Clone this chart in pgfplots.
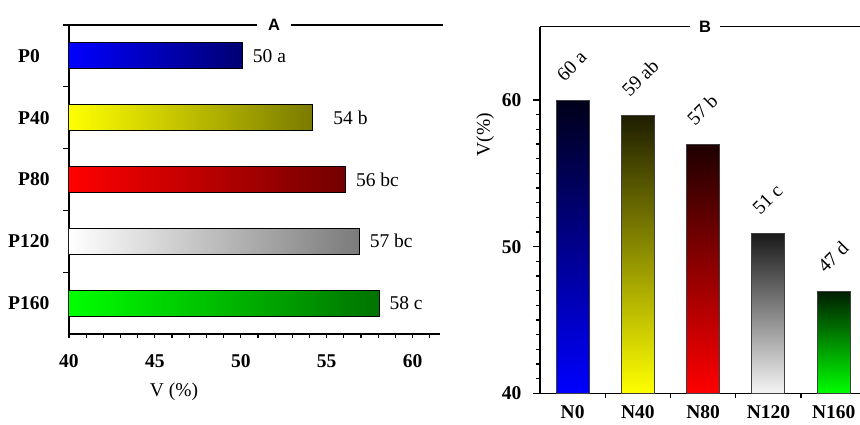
\documentclass[border=0pt]{standalone}
\usepackage{pgfplots}
\pgfplotsset{compat=1.18}
\usepackage{fontspec}
\setmainfont{Liberation Serif}
\newfontfamily\titlefont{Liberation Sans}
\newcommand\fs{\fontsize{19.5}{23}\selectfont}
\begin{document}
\begin{tikzpicture}
\useasboundingbox (0,0) rectangle (860pt,424pt);
\begin{axis}[name=A,
  at={(69pt,90pt)}, anchor=south west, scale only axis,
  width=371pt, height=309pt,
  axis lines*=left, axis line style={line width=1.2pt},
  tick align=outside, tick style={line width=1.2pt, black},
  major tick length=4pt, minor tick length=6pt,
  x coord trafo/.code={\pgfmathparse{#1-40}},
  xmin=40, xmax=61.6,
  xtick={40,41,...,61},
  xticklabels={40,,,,,45,,,,,50,,,,,55,,,,,60,},
  ymin=-0.5, ymax=4.5,
  ytick={0,1,2,3,4},
  yticklabels={\hspace{-10pt}P160,\hspace{-10pt}P120,P80,P40,P0},
  major y tick style={draw=none},
  minor ytick={0.5,1.5,2.5,3.5},
  tick label style={font=\fs\bfseries},
  xticklabel style={anchor=center, yshift=-23pt},
  yticklabel style={anchor=west, inner sep=0pt, xshift=-47pt},
  xlabel={V (\%)},
  xlabel style={font=\fs, at={(axis description cs:0.283,-0.188)}, anchor=center},
  point meta=explicit symbolic,
  nodes near coords,
  nodes near coords style={font=\fs, anchor=west, inner sep=0pt, xshift=10pt},
  every axis plot/.append style={xbar, bar width=26pt, bar shift=0pt, draw=black, line width=1pt},
]
\addplot[left color=blue, right color=blue!45!black] coordinates {(50.1,4) [50 a]};
\addplot[left color=yellow, right color=yellow!48!black, every node near coord/.append style={xshift=10pt}] coordinates {(54.2,3) [54 b]};
\addplot[left color=red, right color=red!45!black] coordinates {(56.1,2) [56 bc]};
\addplot[left color=white, right color=white!48!black] coordinates {(56.9,1) [57 bc]};
\addplot[left color=green, right color=green!45!black] coordinates {(58.05,0) [58 c]};
\end{axis}
\draw[line width=1.2pt] ([xshift=-6pt]A.north west) -- ([xshift=3pt]A.north east);
\node[fill=white, inner xsep=11pt, inner ysep=2pt, font=\titlefont\bfseries\fontsize{16.5}{18}\selectfont] at (274pt,399pt) {A};

\begin{axis}[name=B,
  at={(540pt,30.7pt)}, anchor=south west, scale only axis,
  width=325pt, height=366.6pt,
  axis lines*=left, axis line style={line width=1.2pt},
  tick align=outside, tick style={line width=1.2pt, black},
  major tick length=7pt, minor tick length=4.5pt,
  y coord trafo/.code={\pgfmathparse{#1-40}},
  ymin=40, ymax=65,
  ytick={40,50,60}, yticklabels={40,50,60},
  minor y tick num=9,
  xmin=-0.5, xmax=4.48,
  xtick={0,1,2,3,4},
  xticklabels={N0,N40,N80,N120,N160},
  major x tick style={draw=none},
  minor xtick={0.5,1.5,2.5,3.5},
  tick label style={font=\fs\bfseries},
  yticklabel style={xshift=-8pt},
  xticklabel style={yshift=-2pt},
  ylabel={V(\%)},
  ylabel style={font=\fs, at={(axis description cs:-0.169,0.705)}, anchor=center},
  point meta=explicit symbolic,
  nodes near coords,
  nodes near coords style={font=\fs, anchor=south west, inner sep=0pt, xshift=-8pt, yshift=17pt, rotate=45},
  every axis plot/.append style={ybar, bar width=33pt, bar shift=0pt, draw=black!75, line width=1pt},
]
\addplot[bottom color=blue, top color=blue!10!black] coordinates {(0,60) [60 a]};
\addplot[bottom color=yellow, top color=yellow!12!black] coordinates {(1,58.93) [59 ab]};
\addplot[bottom color=red, top color=red!12!black] coordinates {(2,56.96) [57 b]};
\addplot[bottom color=white!96!black, top color=black!90] coordinates {(3,50.9) [51 c]};
\addplot[bottom color=green, top color=green!12!black] coordinates {(4,46.92) [47 d]};
\end{axis}
\draw[line width=1.2pt] (B.north west) -- (B.north east);
\node[fill=white, inner xsep=9pt, inner ysep=2pt, font=\titlefont\bfseries\fontsize{16.5}{18}\selectfont] at (705pt,397.3pt) {B};
\end{tikzpicture}
\end{document}
